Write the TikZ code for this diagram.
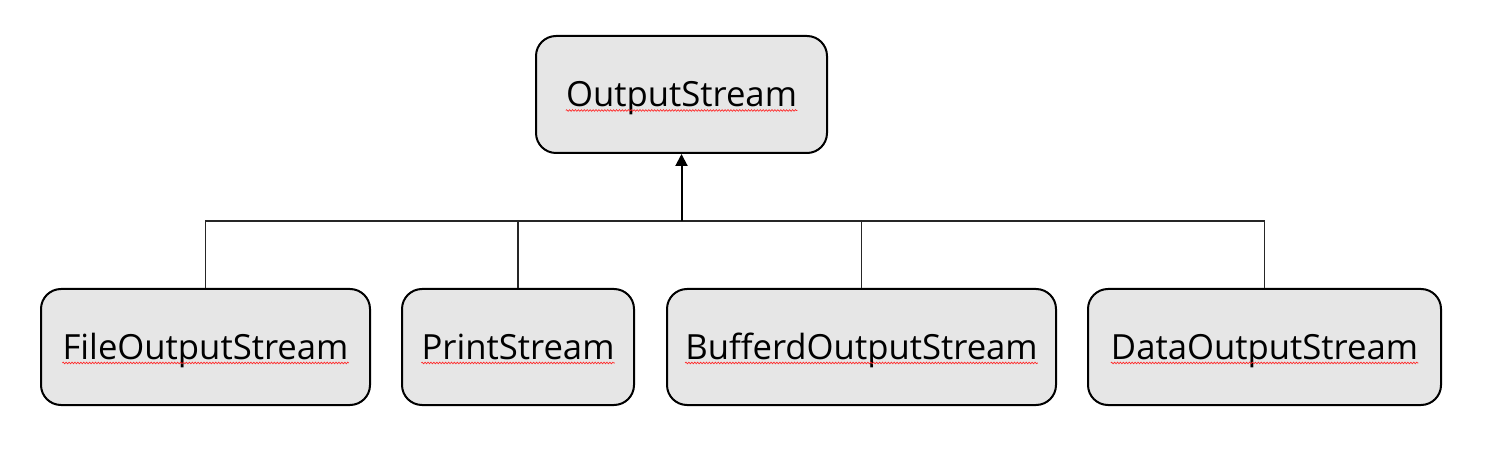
\documentclass[tikz,border=0pt]{standalone}
\usepackage{fontspec}
\setmainfont{Open Sans}
\usetikzlibrary{arrows.meta,decorations.pathmorphing}
\definecolor{boxfill}{HTML}{E6E6E6}
\tikzset{
  box/.style={draw=black, line width=1.5pt, fill=boxfill, rounded corners=15pt, inner sep=0pt},
  lbl/.style={inner sep=0pt, font=\fontsize{26}{30}\selectfont, text height=18.75pt, text depth=0pt},
  link/.style={draw=black!85, line width=0.8pt},
  inh/.style={draw=black, line width=1.5pt, -{Triangle[length=9pt,width=9pt]}},
  spell/.style={draw=red!85!white, line width=0.5pt, decorate, decoration={snake, amplitude=0.6pt, segment length=2.2pt}}
}
\begin{document}
\begin{tikzpicture}[x=0.75pt,y=-0.75pt]
\useasboundingbox (0,0) rectangle (1487,466);
% boxes
\node[box, minimum width=218.25pt, minimum height=87.75pt] (Out) at (681.5,94.5) {};
\node[box, minimum width=246.75pt, minimum height=87pt] (File) at (205.5,347) {};
\node[box, minimum width=174pt, minimum height=87pt] (Print) at (518,347) {};
\node[box, minimum width=291.75pt, minimum height=87pt] (Buff) at (861.5,347) {};
\node[box, minimum width=264.75pt, minimum height=87pt] (Data) at (1264.5,347) {};
% labels
\node[lbl] (tOut) at (Out) {OutputStream};
\node[lbl] (tFile) at (File) {FileOutputStream};
\node[lbl] (tPrint) at (Print) {PrintStream};
\node[lbl] (tBuff) at (Buff) {BufferdOutputStream};
\node[lbl] (tData) at (Data) {DataOutputStream};
% spell-check underlines
\foreach \n in {tOut,tFile,tPrint,tBuff,tData}{
  \draw[spell] ([yshift=-2.6pt]\n.base west) -- ([yshift=-2.6pt]\n.base east);
}
% connectors
\coordinate (bus) at (0,221);
\draw[link] (File.north) |- (Data.north |- bus) -- (Data.north);
\draw[link] (Print.north) -- (Print.north |- bus);
\draw[link] (Buff.north) -- (Buff.north |- bus);
\draw[inh] (Out.south |- bus) -- (Out.south);
\end{tikzpicture}
\end{document}
